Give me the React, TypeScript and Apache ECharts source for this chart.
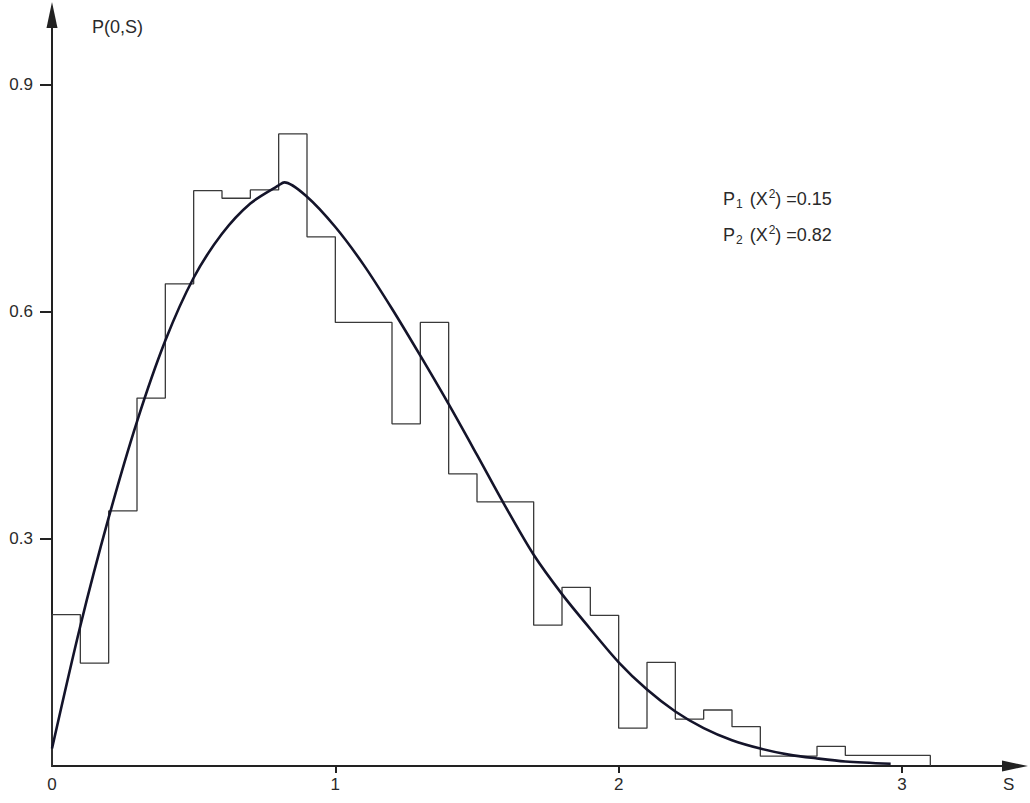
import React, { useEffect, useRef } from "react";
import * as echarts from "echarts";

// Histogram: bins of width 0.1 starting at these S values
const binStarts = [
  0.0, 0.1, 0.2, 0.3, 0.4, 0.5, 0.6, 0.7, 0.8, 0.9,
  1.0, 1.1, 1.2, 1.3, 1.4, 1.5, 1.6, 1.7, 1.8, 1.9,
  2.0, 2.1, 2.2, 2.3, 2.4, 2.5, 2.6, 2.7, 2.8, 2.9, 3.0,
];
const binHeights = [
  0.200, 0.136, 0.337, 0.486, 0.637, 0.760, 0.750, 0.761, 0.835, 0.699,
  0.586, 0.586, 0.452, 0.586, 0.386, 0.349, 0.349, 0.186, 0.236, 0.199,
  0.050, 0.137, 0.062, 0.074, 0.052, 0.013, 0.013, 0.026, 0.014, 0.014, 0.014,
];
const binWidth = 0.1;

// Fitted curve P(0,S)
const curveS = [
  0, 0.1, 0.2, 0.3, 0.4, 0.5, 0.6, 0.7, 0.8, 0.82, 0.9, 1.0, 1.1, 1.2, 1.3,
  1.4, 1.5, 1.6, 1.7, 1.8, 1.9, 2.0, 2.1, 2.2, 2.3, 2.4, 2.5, 2.6, 2.7, 2.8, 2.96,
];
const curveP = [
  0.023, 0.185, 0.328, 0.455, 0.562, 0.645, 0.703, 0.743, 0.767, 0.771, 0.752, 0.712, 0.662, 0.604, 0.542,
  0.478, 0.411, 0.343, 0.279, 0.227, 0.181, 0.137, 0.101, 0.072, 0.050, 0.034, 0.023, 0.015, 0.010, 0.006, 0.003,
];

const xTickLabels = [0, 1, 2, 3];
const xTicks = [1, 2, 3];
const yTickLabels = [0.3, 0.6, 0.9];

const annotationLines = [
  { idx: "1", value: "0.15" },
  { idx: "2", value: "0.82" },
];

const FONT = "'Liberation Sans', Arial, sans-serif";
const INK = "#222";
const TEXT = "#2a2a2a";

export default function App() {
  const ref = useRef<HTMLDivElement>(null);

  useEffect(() => {
    if (!ref.current) return;
    const chart = echarts.init(ref.current, undefined, { renderer: "svg" });

    const histData: number[][] = [[0, 0]];
    binStarts.forEach((s, i) => histData.push([s, binHeights[i]]));
    const last = binStarts.length - 1;
    const end = +(binStarts[last] + binWidth).toFixed(2);
    histData.push([end, binHeights[last]]);
    histData.push([end, 0]);

    const curveData = curveS.map((s, i) => [s, curveP[i]]);

    chart.setOption({
      animation: false,
      backgroundColor: "#fff",
      grid: { left: 52, right: 9, top: 9, bottom: 37, containLabel: false },
      xAxis: {
        type: "value",
        min: 0,
        max: 3.42,
        splitLine: { show: false },
        axisLine: {
          onZero: false,
          symbol: ["none", "triangle"],
          symbolSize: [11, 26],
          symbolOffset: [0, -6],
          lineStyle: { color: INK, width: 2 },
        },
        axisTick: {
          show: true,
          customValues: xTicks,
          length: 7,
          lineStyle: { color: INK, width: 2 },
        },
        axisLabel: {
          customValues: xTickLabels,
          margin: 10,
          color: TEXT,
          fontFamily: FONT,
          fontSize: 17,
        },
      },
      yAxis: {
        type: "value",
        min: 0,
        max: 1.0,
        splitLine: { show: false },
        axisLine: {
          symbol: ["none", "triangle"],
          symbolSize: [11, 26],
          symbolOffset: [0, -6],
          lineStyle: { color: INK, width: 2 },
        },
        axisTick: {
          show: true,
          customValues: yTickLabels,
          length: 12,
          lineStyle: { color: INK, width: 2 },
        },
        axisLabel: {
          customValues: yTickLabels,
          margin: 19,
          color: TEXT,
          fontFamily: FONT,
          fontSize: 17,
          formatter: (v: number) => v.toFixed(1),
        },
      },
      series: [
        {
          type: "line",
          name: "histogram",
          data: histData,
          step: "end",
          symbol: "none",
          lineStyle: { color: "#3a3a3a", width: 1.3 },
          z: 2,
        },
        {
          type: "line",
          name: "P(0,S)",
          data: curveData,
          smooth: 0.3,
          symbol: "none",
          lineStyle: { color: "#14142a", width: 2.6 },
          z: 3,
        },
      ],
      graphic: [
        {
          type: "text",
          left: 92,
          top: 18,
          style: { text: "P(0,S)", fill: TEXT, font: `18px ${FONT}` },
        },
        {
          type: "text",
          left: 1003,
          top: 776,
          style: { text: "S", fill: TEXT, font: `17px ${FONT}` },
        },
        ...annotationLines.map((l, i) => ({
          type: "text",
          left: 723,
          top: 188 + i * 36,
          style: {
            text: `{b|P}{sub|${l.idx}}{b| (X}{sup|2}{b|) =${l.value}}`,
            fill: TEXT,
            rich: {
              b: { fontSize: 18, fontFamily: FONT, fill: TEXT, lineHeight: 24 },
              sub: { fontSize: 12, fontFamily: FONT, fill: TEXT, lineHeight: 24, padding: [10, 2, 0, 1] },
              sup: { fontSize: 12, fontFamily: FONT, fill: TEXT, lineHeight: 24, padding: [0, 0, 10, 1] },
            },
          },
        })),
      ],
    });

    return () => chart.dispose();
  }, []);

  return (
    <div
      ref={ref}
      style={{ position: "absolute", left: 0, top: 0, width: 1030, height: 803 }}
    />
  );
}
